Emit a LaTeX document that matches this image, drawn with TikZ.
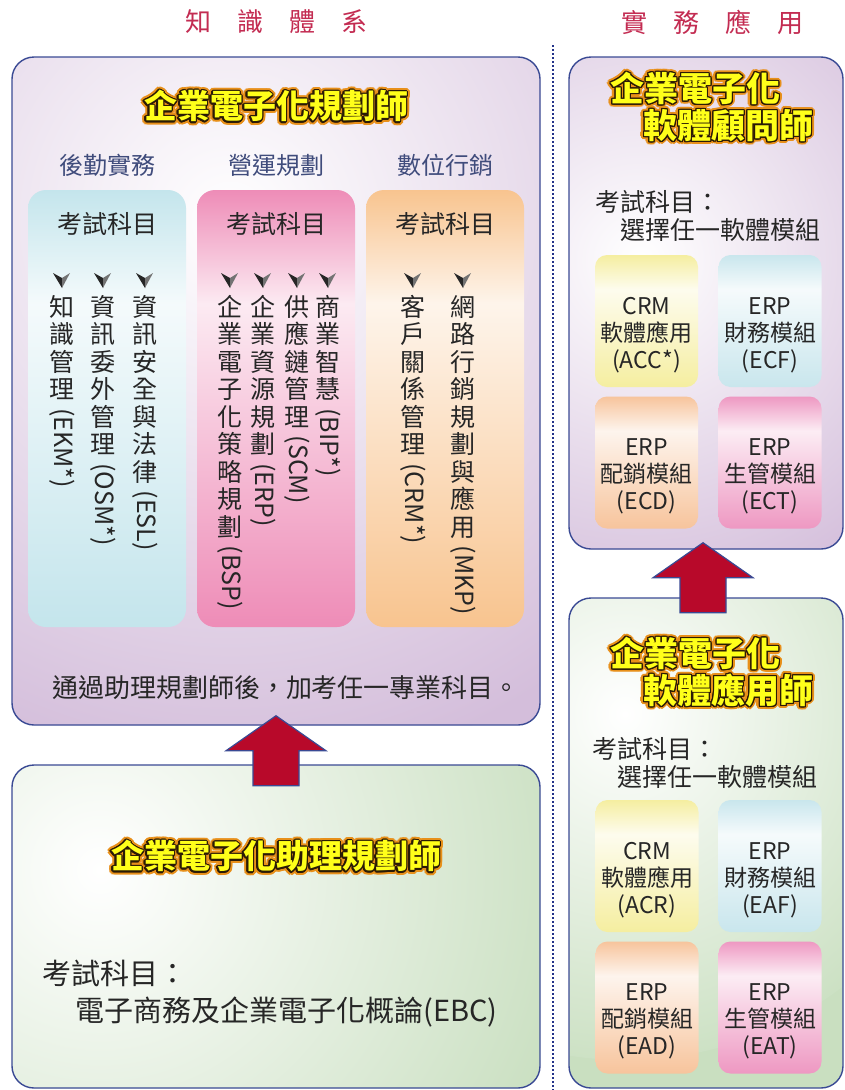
\documentclass[tikz,border=0pt]{standalone}
\usepackage{fontspec}
\setmainfont{Noto Sans CJK TC}
\usepackage{xcolor}
\usepackage{graphicx}
\usepackage{contour}
\usetikzlibrary{positioning}

\definecolor{boxline}{HTML}{3A4A94}
\definecolor{purpfill}{HTML}{D4BEDB}
\definecolor{greenfill}{HTML}{C9DFC0}
\definecolor{arrowred}{HTML}{B8092A}
\definecolor{dotblue}{HTML}{23338A}
\definecolor{headred}{HTML}{C32C52}
\definecolor{subhead}{HTML}{404C7C}
\definecolor{inktext}{HTML}{262626}
\definecolor{colblue}{HTML}{C4E5EC}
\definecolor{colpink}{HTML}{EE8CB7}
\definecolor{colorange}{HTML}{F8C48F}
\definecolor{modyellow}{HTML}{F5EEA0}
\definecolor{modblue}{HTML}{C9E6ED}
\definecolor{modorange}{HTML}{F7C49C}
\definecolor{modpink}{HTML}{EE98C2}
\definecolor{titleyel}{HTML}{FFFF1A}
\definecolor{glowor}{HTML}{E8901A}
\definecolor{outlinebr}{HTML}{2A1A05}
\colorlet{barcol}{white}

% soft bar: colour at top and bottom, pale band in the upper part
\pgfdeclareverticalshading[barcol]{softbar}{100bp}{color(0bp)=(barcol); color(25bp)=(barcol); color(62bp)=(barcol!18!white); color(75bp)=(barcol); color(100bp)=(barcol)}

% yellow title with dark rim and orange glow
\newcommand{\glowtext}[1]{\rlap{\contourlength{3.4pt}\contour{glowor}{\textcolor{outlinebr}{#1}}}\contourlength{1.2pt}\contour{outlinebr}{\textcolor{titleyel}{#1}}}
% vertical label: stacked characters, then latin part turned
\newcommand{\vlabel}[2]{#1\\[-18pt]\rotatebox{-90}{#2}}

\begin{document}
\begin{tikzpicture}[x=1pt,y=-1pt,
    panel/.style n args={4}{draw=boxline, line width=1.4pt, rounded corners=22pt, fill=#1, inner sep=0pt,
        path picture={\shade[inner color=white, outer color=#1] ([shift={(#2,#3)}]path picture bounding box.north west) circle (#4);}},
    bar/.style={/utils/exec={\colorlet{barcol}{#1}}, shading=softbar, shade, inner sep=0pt},
    colbox/.style={bar=#1, rounded corners=18pt, minimum width=158pt, minimum height=437pt},
    modbox/.style={bar=#1, rounded corners=12pt, minimum width=103pt, minimum height=132pt},
    header/.style={text=headred, font=\fontsize{26}{30}\selectfont},
    title/.style={font=\fontsize{33}{37}\selectfont\bfseries, inner sep=0pt},
    sub/.style={text=subhead, font=\fontsize{24}{28}\selectfont},
    exam/.style={text=inktext, font=\fontsize{25}{28}\selectfont},
    vcol/.style={text=inktext, font=\fontsize{25}{27.5}\selectfont, align=center, anchor=north, inner sep=0pt},
    modtext/.style={text=inktext, font=\fontsize{23}{27}\selectfont, align=center, inner sep=0pt},
    bigarrow/.style={fill=arrowred, draw=boxline, line width=1.2pt, line join=miter},
    dotline/.style={dotblue, line width=2pt, dash pattern=on 2pt off 2pt},
    chk/.pic={\fill[black!85] (-9,-7) -- (0,8) -- (0,-2) -- cycle;
              \fill[black!55] (0,-2) -- (0,8) -- (8,-7) -- cycle;}
]
    \useasboundingbox (0,0) rectangle (844,1090);

    % Column titles
    \node[header] (kbTitle) at (276,22) {知\hspace{26pt}識\hspace{26pt}體\hspace{26pt}系};
    \node[header] (prTitle) at (712,22) {實\hspace{26pt}務\hspace{26pt}應\hspace{26pt}用};

    % Separator
    \coordinate (sepTop) at (553,45);
    \coordinate (sepBot) at (553,1090);
    \draw[dotline] (sepTop) -- (sepBot);

    % Planner
    \node[panel={purpfill}{218}{163}{560}, minimum width=528pt, minimum height=668pt] (know) at (276,391) {};
    \node[title] (knowName) at (276,108) {\glowtext{企業電子化規劃師}};

    \node[sub] (logiHead) at (107,165) {後勤實務};
    \node[sub] (operHead) at (276,165) {營運規劃};
    \node[sub] (markHead) at (445,165) {數位行銷};

    \node[colbox=colblue] (logi) at (107,408.5) {};
    \node[colbox=colpink] (oper) at (276,408.5) {};
    \node[colbox=colorange] (mark) at (445,408.5) {};

    \node[exam] (logiExam) at (107,224) {考試科目};
    \node[exam] (operExam) at (276,224) {考試科目};
    \node[exam] (markExam) at (445,224) {考試科目};

    \foreach \x in {62,103,145,230,263,297,328,413,463}
        \pic at (\x,280) {chk};

    \node[vcol] (ekm) at (62,295) {\vlabel{知\\識\\管\\理}{(EKM*)}};
    \node[vcol] (osm) at (103,295) {\vlabel{資\\訊\\委\\外\\管\\理}{(OSM*)}};
    \node[vcol] (esl) at (145,295) {\vlabel{資\\訊\\安\\全\\與\\法\\律}{(ESL)}};

    \node[vcol] (bsp) at (230,295) {\vlabel{企\\業\\電\\子\\化\\策\\略\\規\\劃}{(BSP)}};
    \node[vcol] (erp) at (263,295) {\vlabel{企\\業\\資\\源\\規\\劃}{(ERP)}};
    \node[vcol] (scm) at (297,295) {\vlabel{供\\應\\鏈\\管\\理}{(SCM)}};
    \node[vcol] (bip) at (328,295) {\vlabel{商\\業\\智\\慧}{(BIP*)}};

    \node[vcol] (crm) at (413,295) {\vlabel{客\\戶\\關\\係\\管\\理}{(CRM*)}};
    \node[vcol] (mkp) at (463,295) {\vlabel{網\\路\\行\\銷\\規\\劃\\與\\應\\用}{(MKP)}};

    \node[text=inktext, font=\fontsize{26}{30}\selectfont] (knowNote) at (286,688) {通過助理規劃師後，加考任一專業科目。};

    % Assistant planner
    \node[panel={greenfill}{88}{105}{500}, minimum width=528pt, minimum height=323pt] (assist) at (276,926.5) {};
    \node[title] (assistName) at (276,858) {\glowtext{企業電子化助理規劃師}};
    \node[text=inktext, font=\fontsize{29}{37}\selectfont, align=left, anchor=west, inner sep=0pt] (assistExam) at (42,993.5)
        {考試科目：\\\hspace{33pt}電子商務及企業電子化概論(EBC)};

    % Software consultant
    \node[panel={purpfill}{71}{203}{360}, minimum width=274pt, minimum height=492pt] (consult) at (706,303) {};
    \node[title, font=\fontsize{34}{37}\selectfont\bfseries, align=left, anchor=north west] (consultName) at (610,72)
        {\glowtext{企業電子化}\\\hspace{33pt}\glowtext{軟體顧問師}};
    \node[exam, align=left, anchor=west, inner sep=0pt] (consultExam) at (595,216) {考試科目：\\\hspace{25pt}選擇任一軟體模組};

    \node[modbox=modyellow] (acc) at (646.5,321) {};
    \node[modbox=modblue] (ecf) at (770,321) {};
    \node[modbox=modorange] (ecd) at (646.5,462.5) {};
    \node[modbox=modpink] (ect) at (770,462.5) {};
    \node[modtext] at ([yshift=-14pt]acc.center) {CRM\\軟體應用\\(ACC*)};
    \node[modtext] at ([yshift=-14pt]ecf.center) {ERP\\財務模組\\(ECF)};
    \node[modtext] at ([yshift=-14pt]ecd.center) {ERP\\配銷模組\\(ECD)};
    \node[modtext] at ([yshift=-14pt]ect.center) {ERP\\生管模組\\(ECT)};

    % Software user
    \node[panel={greenfill}{56}{102}{360}, minimum width=274pt, minimum height=490pt] (apply) at (706,843) {};
    \node[title, font=\fontsize{34}{37}\selectfont\bfseries, align=left, anchor=north west] (applyName) at (610,637)
        {\glowtext{企業電子化}\\\hspace{33pt}\glowtext{軟體應用師}};
    \node[exam, align=left, anchor=west, inner sep=0pt] (applyExam) at (592,762.5) {考試科目：\\\hspace{25pt}選擇任一軟體模組};

    \node[modbox=modyellow] (acr) at (647,866) {};
    \node[modbox=modblue] (eaf) at (770,866) {};
    \node[modbox=modorange] (ead) at (647,1007.5) {};
    \node[modbox=modpink] (eat) at (770,1007.5) {};
    \node[modtext] at ([yshift=-14pt]acr.center) {CRM\\軟體應用\\(ACR)};
    \node[modtext] at ([yshift=-14pt]eaf.center) {ERP\\財務模組\\(EAF)};
    \node[modtext] at ([yshift=-14pt]ead.center) {ERP\\配銷模組\\(EAD)};
    \node[modtext] at ([yshift=-14pt]eat.center) {ERP\\生管模組\\(EAT)};

    % Upgrade arrows
    \draw[bigarrow] ([yshift=10pt]know.south) -- ++(50,35) -- ++(-27,0) -- ++(0,35) -- ++(-46,0) -- ++(0,-35) -- ++(-27,0) -- cycle;
    \draw[bigarrow] ([xshift=-3pt,yshift=7pt]consult.south) -- ++(50,35) -- ++(-27,0) -- ++(0,35) -- ++(-46,0) -- ++(0,-35) -- ++(-27,0) -- cycle;
\end{tikzpicture}
\end{document}
